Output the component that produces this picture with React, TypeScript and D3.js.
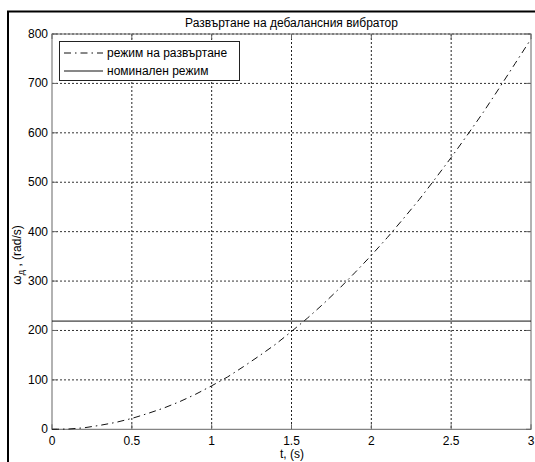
import React from "react";
import * as d3 from "d3";

const times = [0, 0.1, 0.2, 0.3, 0.4, 0.5, 0.6, 0.7, 0.8, 0.9, 1.0, 1.1, 1.2, 1.3, 1.4, 1.5, 1.6, 1.7, 1.8, 1.9, 2.0, 2.1, 2.2, 2.3, 2.4, 2.5, 2.6, 2.7, 2.8, 2.9, 3.0];
const omegaRunUp = [0, 0.5, 3, 8, 14, 22, 32, 43, 56, 71, 88, 106, 127, 149, 172, 198, 225, 254, 285, 318, 352, 388, 426, 465, 507, 550, 595, 641, 690, 740, 790];
const nominalT = [0, 3];
const nominalOmega = [219, 219];
const xTicks = [0, 0.5, 1, 1.5, 2, 2.5, 3];
const yTicks = [0, 100, 200, 300, 400, 500, 600, 700, 800];
const titleText = "Развъртане на дебалансния вибратор";
const xLabelText = "t, (s)";
const legendLabels = ["режим на развъртане", "номинален режим"];

const W = 535, H = 462;
const L = 52, R = 531, T = 34, B = 429.3;

export default function App() {
  const x = d3.scaleLinear().domain([0, 3]).range([L, R]);
  const y = d3.scaleLinear().domain([0, 800]).range([B, T]);
  const line = d3.line<[number, number]>().x(d => x(d[0])).y(d => y(d[1]));
  const runPts: [number, number][] = times.map((t, i) => [t, omegaRunUp[i]]);
  const nomPts: [number, number][] = nominalT.map((t, i) => [t, nominalOmega[i]]);
  const font = "Arial, 'Liberation Sans', sans-serif";
  const tickLen = 5;
  const dashDot = "7,4,1.5,4";
  return (
    <svg width={W} height={H} style={{ position: "absolute", left: 0, top: 0, background: "#fff" }} fontFamily={font}>
      <rect x={0} y={0} width={W} height={H} fill="#fff" />
      {/* outer frame */}
      <line x1={7} x2={W} y1={11.5} y2={11.5} stroke="#000" strokeWidth={2} />
      <line x1={8} x2={8} y1={11} y2={H} stroke="#000" strokeWidth={2} />
      {/* grid */}
      {xTicks.slice(1, -1).map(t => (
        <line key={"gx" + t} x1={x(t)} x2={x(t)} y1={T} y2={B} stroke="#222" strokeWidth={1} strokeDasharray="2,2" />
      ))}
      {yTicks.slice(1).map(v => (
        <line key={"gy" + v} x1={L} x2={R} y1={y(v)} y2={y(v)} stroke="#333" strokeWidth={1} strokeDasharray="2,2" />
      ))}
      {/* axes box */}
      <rect x={L} y={T} width={R - L} height={B - T} fill="none" stroke="#666" strokeWidth={1} />
      {xTicks.map(t => (
        <g key={"tx" + t}>
          <line x1={x(t)} x2={x(t)} y1={B} y2={B - tickLen} stroke="#666" />
          <line x1={x(t)} x2={x(t)} y1={T} y2={T + tickLen} stroke="#666" />
          <text x={x(t)} y={445} fontSize={12} textAnchor="middle" fill="#000">{String(t)}</text>
        </g>
      ))}
      {yTicks.map(v => (
        <g key={"ty" + v}>
          <line x1={L} x2={L + tickLen} y1={y(v)} y2={y(v)} stroke="#666" />
          <line x1={R} x2={R - tickLen} y1={y(v)} y2={y(v)} stroke="#666" />
          <text x={48} y={y(v) + 4} fontSize={12} textAnchor="end" fill="#000">{String(v)}</text>
        </g>
      ))}
      {/* data */}
      <path d={line(nomPts) ?? ""} fill="none" stroke="#111" strokeWidth={1} />
      <path d={line(runPts) ?? ""} fill="none" stroke="#111" strokeWidth={1} strokeDasharray={dashDot} />
      {/* legend */}
      <rect x={59.5} y={41.5} width={180} height={39} fill="#fff" stroke="#222" strokeWidth={1} />
      <line x1={64} x2={103} y1={53} y2={53} stroke="#111" strokeDasharray={dashDot} />
      <text x={107} y={57} fontSize={12} fill="#000">{legendLabels[0]}</text>
      <line x1={64} x2={103} y1={71} y2={71} stroke="#111" />
      <text x={107} y={75} fontSize={12} fill="#000">{legendLabels[1]}</text>
      {/* title and labels */}
      <text x={(L + R) / 2} y={27} fontSize={12} textAnchor="middle" fill="#000">{titleText}</text>
      <text x={292} y={458} fontSize={12} textAnchor="middle" fill="#000">{xLabelText}</text>
      <text transform="translate(21,255) rotate(-90)" fontSize={12} textAnchor="middle" fill="#000">
        ω<tspan fontSize={8} dy={3}>Д</tspan><tspan dy={-3}> , (rad/s)</tspan>
      </text>
    </svg>
  );
}
